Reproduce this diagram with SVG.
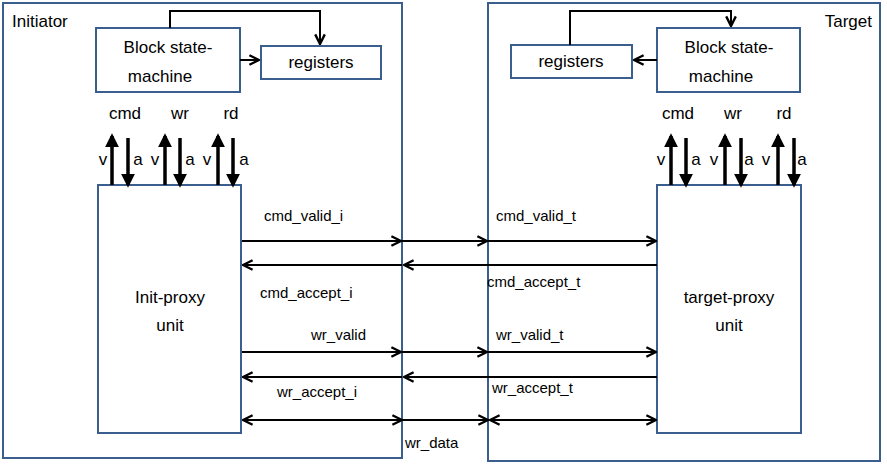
<svg xmlns="http://www.w3.org/2000/svg" width="887" height="468" viewBox="0 0 887 468">
<defs>
<marker id="ah" viewBox="0 0 10 10" refX="9" refY="5" markerWidth="6" markerHeight="6" orient="auto-start-reverse"><path d="M1,1 L9,5 L1,9" fill="none" stroke="#000" stroke-width="2"/></marker>
<marker id="th" viewBox="0 0 10 10" refX="8" refY="5" markerWidth="4" markerHeight="4" orient="auto-start-reverse"><path d="M0,0 L10,5 L0,10 z" fill="#000"/></marker>
<style>
.box{fill:#fff;stroke:#3a5f8f;stroke-width:2}
.t{font-family:"Liberation Sans",Arial,sans-serif;font-size:17px;fill:#000}
.s{font-family:"Liberation Sans",Arial,sans-serif;font-size:15px;fill:#000}
.c{text-anchor:middle}
.h{stroke:#000;stroke-width:2;fill:none;marker-end:url(#ah)}
.v{stroke:#000;stroke-width:3.5;fill:none;marker-end:url(#th)}
</style>
</defs>
<rect width="887" height="468" fill="#fff"/>
<g id="initiator"><rect class="box" x="3" y="3" width="399" height="455"/><text class="t" x="12" y="27">Initiator</text></g>
<g id="target"><rect class="box" x="488" y="3" width="392" height="458"/><text class="t" x="872" y="27" text-anchor="end">Target</text></g>
<g id="bsm-i"><rect class="box" x="96" y="28" width="144" height="64"/><text class="t c" x="168" y="53">Block state-</text><text class="t c" x="160" y="82">machine</text></g>
<g id="reg-i"><rect class="box" x="261" y="46" width="120" height="33"/><text class="t c" x="321" y="68">registers</text></g>
<g id="reg-t"><rect class="box" x="511" y="45" width="121" height="33"/><text class="t c" x="571" y="67">registers</text></g>
<g id="bsm-t"><rect class="box" x="657" y="28" width="143" height="64"/><text class="t c" x="729" y="53">Block state-</text><text class="t c" x="721" y="82">machine</text></g>
<g id="proxy-i"><rect class="box" x="98" y="185" width="143" height="248"/><text class="t c" x="170" y="303">Init-proxy</text><text class="t c" x="170" y="331">unit</text></g>
<g id="proxy-t"><rect class="box" x="657" y="185" width="144" height="248"/><text class="t c" x="729" y="303">target-proxy</text><text class="t c" x="729" y="331">unit</text></g>
<g id="labels">
<text class="t c" x="125" y="119">cmd</text><text class="t c" x="180" y="119">wr</text><text class="t c" x="231" y="119">rd</text>
<text class="t c" x="678" y="119">cmd</text><text class="t c" x="733" y="119">wr</text><text class="t c" x="784" y="119">rd</text>
<text class="t c" x="103" y="165">v</text><text class="t c" x="138" y="165">a</text><text class="t c" x="155" y="165">v</text><text class="t c" x="190" y="165">a</text><text class="t c" x="207" y="165">v</text><text class="t c" x="244" y="165">a</text>
<text class="t c" x="661" y="165">v</text><text class="t c" x="696" y="165">a</text><text class="t c" x="714" y="165">v</text><text class="t c" x="749" y="165">a</text><text class="t c" x="766" y="165">v</text><text class="t c" x="802" y="165">a</text>
<text class="s" x="264" y="221">cmd_valid_i</text><text class="s" x="496" y="221">cmd_valid_t</text>
<text class="s" x="260" y="298">cmd_accept_i</text><text class="s" x="487" y="287">cmd_accept_t</text>
<text class="s" x="311" y="340">wr_valid</text><text class="s" x="496" y="340">wr_valid_t</text>
<text class="s" x="277" y="397">wr_accept_i</text><text class="s" x="492" y="393">wr_accept_t</text>
<text class="s" x="405" y="448">wr_data</text>
</g>
<g id="connectors">
<path class="h" d="M170,28 V11 H320 V44"/>
<path class="h" d="M570,45 V11 H731 V26"/>
<path class="h" d="M240,60 H259"/>
<path class="h" d="M657,60 H634"/>
<path class="v" d="M112,185 V136"/><path class="v" d="M128,138 V185"/>
<path class="v" d="M165,185 V136"/><path class="v" d="M180,138 V185"/>
<path class="v" d="M218,185 V136"/><path class="v" d="M233,138 V185"/>
<path class="v" d="M671,185 V136"/><path class="v" d="M686,138 V185"/>
<path class="v" d="M725,185 V136"/><path class="v" d="M741,138 V185"/>
<path class="v" d="M778,185 V136"/><path class="v" d="M794,138 V185"/>
<path class="h" d="M242,241 H401"/><path class="h" d="M402,241 H487"/><path class="h" d="M488,241 H656"/>
<path class="h" d="M657,265 H404"/><path class="h" d="M402,265 H243"/>
<path class="h" d="M242,352 H401"/><path class="h" d="M402,352 H487"/><path class="h" d="M488,352 H656"/>
<path class="h" d="M657,377 H404"/><path class="h" d="M402,377 H243"/>
<path class="h" d="M402,420 H243" style="marker-start:url(#ah)"/><path class="h" d="M402,420 H488"/><path class="h" d="M490,420 H656" style="marker-start:url(#ah)"/>
</g>
</svg>
